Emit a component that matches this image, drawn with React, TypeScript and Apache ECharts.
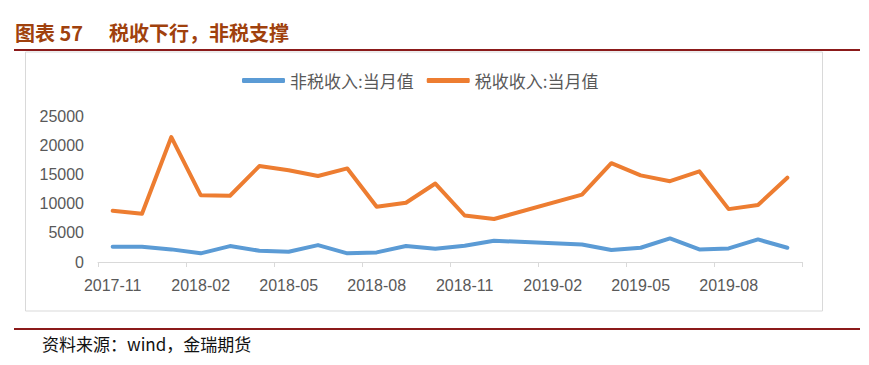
import React, { useEffect, useRef } from "react";
import * as echarts from "echarts";

const months: string[] = [
  "2017-11", "2017-12", "2018-01", "2018-02", "2018-03", "2018-04", "2018-05", "2018-06",
  "2018-07", "2018-08", "2018-09", "2018-10", "2018-11", "2018-12", "2019-01", "2019-02",
  "2019-03", "2019-04", "2019-05", "2019-06", "2019-07", "2019-08", "2019-09", "2019-10",
];

const nonTax: (number | null)[] = [
  2620, 2620, 2170, 1490, 2740, 1940, 1770, 2910, 1490, 1650, 2740, 2280,
  2790, 3650, null, null, 3020, 2050, 2450, 4050, 2170, 2340, 3880, 2450,
];

const tax: (number | null)[] = [
  8800, 8300, 21500, 11500, 11400, 16500, 15800, 14800, 16100, 9500, 10200, 13500,
  8000, 7400, null, null, 11600, 17000, 14900, 13900, 15600, 9100, 9800, 14500,
];

const seriesNames: string[] = ["非税收入:当月值", "税收收入:当月值"];
const titleLeft = "图表 57";
const titleRight = "税收下行，非税支撑";
const sourceText = "资料来源：wind，金瑞期货";

export default function App() {
  const ref = useRef<HTMLDivElement>(null);
  useEffect(() => {
    document.body.style.margin = "0";
    const chart = echarts.init(ref.current!, null, { renderer: "svg" });
    const cjk = "'Noto Sans CJK SC', sans-serif";
    const num = "'Liberation Sans', Arial, sans-serif";
    chart.setOption({
      animation: false,
      backgroundColor: "#ffffff",
      grid: { left: 98, right: 67, top: 116.7, bottom: 103, containLabel: false },
      legend: {
        left: 242,
        top: 72,
        padding: 0,
        itemWidth: 43,
        itemHeight: 5,
        itemGap: 13,
        icon: "roundRect",
        textStyle: { fontSize: 17, color: "#595959", fontFamily: cjk },
        data: seriesNames,
      },
      xAxis: {
        type: "category",
        data: months,
        boundaryGap: true,
        axisLine: { lineStyle: { color: "#d9d9d9", width: 1 } },
        axisTick: { show: true, interval: 2, length: 5, lineStyle: { color: "#d9d9d9" } },
        axisLabel: { interval: 2, margin: 15, fontSize: 16, color: "#595959", fontFamily: num },
      },
      yAxis: {
        type: "value",
        min: 0,
        max: 25000,
        interval: 5000,
        axisLine: { show: false },
        axisTick: { show: false },
        splitLine: { show: false },
        axisLabel: {
          margin: 14,
          fontSize: 16,
          color: "#595959",
          fontFamily: num,
          formatter: (v: number) => String(v),
        },
      },
      series: [
        {
          name: seriesNames[0],
          type: "line",
          data: nonTax,
          connectNulls: true,
          showSymbol: false,
          symbol: "none",
          color: "#5B9BD5",
          lineStyle: { width: 4, color: "#5B9BD5", cap: "round", join: "round" },
        },
        {
          name: seriesNames[1],
          type: "line",
          data: tax,
          connectNulls: true,
          showSymbol: false,
          symbol: "none",
          color: "#ED7D31",
          lineStyle: { width: 4, color: "#ED7D31", cap: "round", join: "round" },
        },
      ],
      graphic: [
        {
          type: "rect",
          silent: true,
          z: -1,
          shape: { x: 25.5, y: 52, width: 797, height: 259 },
          style: { fill: "none", stroke: "#d9d9d9", lineWidth: 1 },
        },
        {
          type: "text",
          x: 15,
          y: 32,
          style: {
            text: titleLeft,
            fontSize: 20,
            fontWeight: "bold",
            fill: "#A0410D",
            fontFamily: cjk,
            verticalAlign: "middle",
          },
        },
        {
          type: "text",
          x: 109,
          y: 32,
          style: {
            text: titleRight,
            fontSize: 20,
            fontWeight: "bold",
            fill: "#A0410D",
            fontFamily: cjk,
            verticalAlign: "middle",
          },
        },
        {
          type: "line",
          shape: { x1: 14, y1: 50, x2: 860, y2: 50 },
          style: { stroke: "#8B1A1A", lineWidth: 2 },
        },
        {
          type: "line",
          shape: { x1: 14, y1: 329, x2: 860, y2: 329 },
          style: { stroke: "#8B1A1A", lineWidth: 2 },
        },
        {
          type: "text",
          x: 42,
          y: 343,
          style: {
            text: sourceText,
            fontSize: 17,
            fill: "#111111",
            fontFamily: cjk,
            verticalAlign: "middle",
          },
        },
      ],
    });
    return () => chart.dispose();
  }, []);
  return <div ref={ref} style={{ width: 869, height: 365 }} />;
}
